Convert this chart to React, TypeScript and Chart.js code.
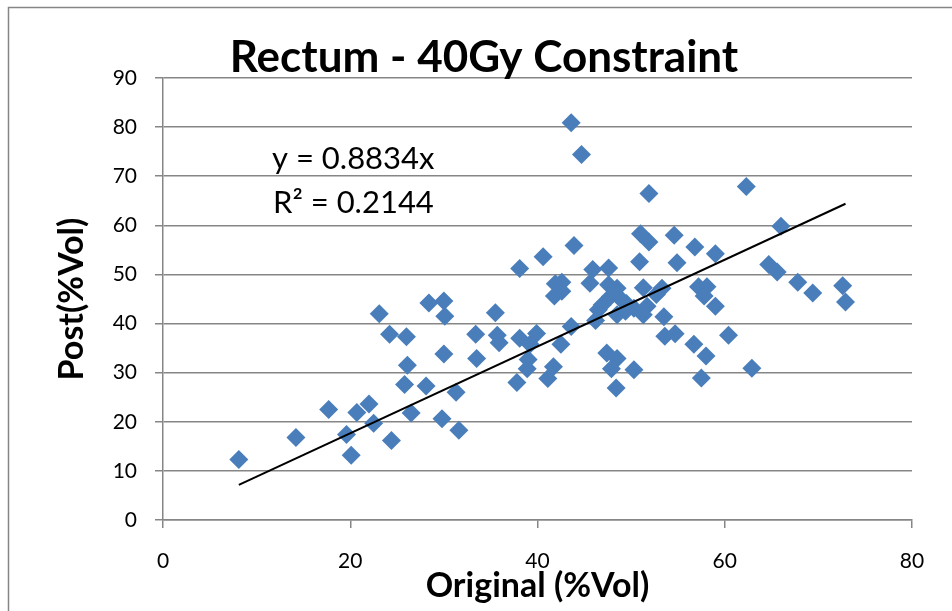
import React, { useEffect, useRef } from "react";
import { Chart, registerables } from "chart.js";

Chart.register(...registerables);

// ---- Data ----
const chartTitle = "Rectum - 40Gy Constraint";
const xAxisTitle = "Original (%Vol)";
const yAxisTitle = "Post(%Vol)";
const equationText = "y = 0.8834x";
const r2Text = "R\u00B2 = 0.2144";
const trendSlope = 0.8834;

const originalVol = [
  8.1, 14.2, 17.7, 19.6, 20.1, 20.7, 22.0, 22.5, 23.1, 24.2,
  24.4, 25.8, 26.0, 26.1, 26.5, 28.1, 28.4, 30.0, 30.1, 30.0,
  29.8, 31.3, 31.6, 33.4, 33.5, 35.5, 35.7, 35.9, 38.1, 38.1,
  37.8, 38.9, 39.0, 39.2, 39.9, 40.6, 41.1, 41.7, 41.8, 41.9,
  42.6, 42.6, 42.5, 43.6, 43.6, 44.7, 43.9, 45.6, 45.9, 46.2,
  46.5, 46.9, 47.6, 47.6, 47.8, 48.5, 48.5, 49.0, 49.5, 50.3,
  47.4, 48.5, 47.9, 48.4, 50.3, 50.9, 51.0, 51.9, 51.9, 51.3,
  51.7, 51.3, 52.7, 53.3, 53.5, 53.6, 54.6, 54.9, 54.7, 56.8,
  56.7, 57.2, 58.1, 57.8, 58.0, 57.5, 59.0, 59.0, 60.4, 62.3,
  62.9, 64.7, 65.6, 66.0, 67.8, 69.4, 72.6, 72.9, 49.4,
];

const postVol = [
  12.3, 16.8, 22.5, 17.4, 13.2, 21.9, 23.6, 19.7, 42.0, 37.8,
  16.2, 27.6, 37.3, 31.5, 21.8, 27.3, 44.2, 44.6, 41.5, 33.8,
  20.6, 26.0, 18.3, 37.8, 32.9, 42.2, 37.6, 36.1, 51.2, 37.0,
  28.0, 30.8, 32.7, 35.8, 38.0, 53.6, 28.8, 31.2, 45.6, 48.1,
  48.4, 46.6, 35.8, 39.4, 80.9, 74.4, 55.9, 48.2, 51.0, 40.6,
  42.8, 43.8, 51.3, 47.9, 45.5, 47.2, 41.8, 44.8, 44.1, 43.1,
  34.0, 32.9, 30.8, 26.9, 30.6, 52.6, 58.3, 56.6, 66.5, 47.3,
  43.5, 41.8, 45.9, 47.2, 41.4, 37.4, 58.0, 52.4, 37.9, 55.6,
  35.8, 47.5, 47.5, 45.6, 33.4, 28.9, 54.2, 43.5, 37.6, 67.9,
  30.9, 52.0, 50.5, 59.8, 48.4, 46.2, 47.7, 44.4, 42.5,
];

const xTickValues = [0, 20, 40, 60, 80];
const yTickValues = [0, 10, 20, 30, 40, 50, 60, 70, 80, 90];

const FONT = "Lato";
const GRID = "#868686";
const MARKER = "#4A7EBB";

const overlayPlugin = {
  id: "overlay",
  beforeDraw(chart: any) {
    const ctx = chart.ctx;
    ctx.save();
    ctx.fillStyle = "#ffffff";
    ctx.fillRect(0, 0, chart.width, chart.height);
    ctx.strokeStyle = GRID;
    ctx.lineWidth = 1.5;
    ctx.beginPath();
    ctx.moveTo(8.5, chart.height);
    ctx.lineTo(8.5, 7.5);
    ctx.lineTo(chart.width, 7.5);
    ctx.stroke();
    ctx.restore();
  },
  afterDraw(chart: any) {
    const ctx = chart.ctx;
    ctx.save();
    ctx.fillStyle = "#000000";
    ctx.textBaseline = "alphabetic";
    ctx.textAlign = "center";
    ctx.font = `bold 44px ${FONT}`;
    ctx.fillText(chartTitle, 484, 72);
    ctx.textAlign = "left";
    ctx.font = `31px ${FONT}`;
    ctx.fillText(equationText, 272, 169);
    ctx.fillText(r2Text, 273, 213);
    ctx.restore();
  },
};

export default function App() {
  const canvasRef = useRef<HTMLCanvasElement | null>(null);

  useEffect(() => {
    let chart: Chart | null = null;
    let cancelled = false;
    const build = () => {
      if (cancelled || !canvasRef.current) return;
      const points = originalVol.map((x, i) => ({ x, y: postVol[i] }));
      const xMin = Math.min(...originalVol);
      const xMax = Math.max(...originalVol);
      const trend = [
        { x: xMin, y: trendSlope * xMin },
        { x: xMax, y: trendSlope * xMax },
      ];
      chart = new Chart(canvasRef.current, {
        type: "scatter",
        data: {
          datasets: [
            {
              type: "line",
              label: "Linear trend",
              data: trend,
              borderColor: "#000000",
              borderWidth: 2,
              pointRadius: 0,
              fill: false,
              order: 0,
            } as any,
            {
              type: "scatter",
              label: "Post vs Original",
              data: points,
              pointStyle: "rectRot",
              pointRadius: 9.5,
              pointBackgroundColor: MARKER,
              backgroundColor: MARKER,
              borderWidth: 0,
              pointBorderWidth: 0,
              order: 1,
            } as any,
          ],
        },
        options: {
          responsive: false,
          animation: false,
          devicePixelRatio: 1,
          layout: { padding: { left: 0, right: 40, top: 78, bottom: 0 } },
          plugins: {
            legend: { display: false },
            tooltip: { enabled: false },
            title: { display: false },
          },
          scales: {
            x: {
              type: "linear",
              min: 0,
              max: 80,
              afterBuildTicks: (s: any) => {
                s.ticks = xTickValues.map((v) => ({ value: v }));
              },
              afterFit: (s: any) => {
                s.height = 91;
              },
              ticks: {
                color: "#000000",
                font: { family: FONT, size: 21 },
                padding: 21,
              },
              grid: {
                drawOnChartArea: false,
                drawTicks: true,
                tickLength: 8,
                color: GRID,
                lineWidth: 1.5,
              },
              border: { color: GRID, width: 1.5 },
              title: {
                display: true,
                text: xAxisTitle,
                color: "#000000",
                font: { family: FONT, size: 34, weight: "bold", lineHeight: 1 },
                padding: { top: 0, bottom: 8 },
              },
            },
            y: {
              type: "linear",
              min: 0,
              max: 90,
              afterBuildTicks: (s: any) => {
                s.ticks = yTickValues.map((v) => ({ value: v }));
              },
              afterFit: (s: any) => {
                s.width = 163;
              },
              ticks: {
                color: "#000000",
                font: { family: FONT, size: 21 },
                padding: 18,
              },
              grid: {
                drawOnChartArea: true,
                drawTicks: true,
                tickLength: 8,
                color: GRID,
                lineWidth: 1.5,
              },
              border: { color: GRID, width: 1.5 },
              title: {
                display: true,
                text: yAxisTitle,
                color: "#000000",
                font: { family: FONT, size: 34, weight: "bold", lineHeight: 1 },
                padding: { top: 55, bottom: 0 },
              },
            },
          },
        },
        plugins: [overlayPlugin],
      } as any);
    };
    const fontsApi = (document as any).fonts;
    if (fontsApi && fontsApi.load) {
      Promise.all([
        fontsApi.load(`bold 44px ${FONT}`),
        fontsApi.load(`21px ${FONT}`),
      ])
        .catch(() => undefined)
        .then(build);
    } else {
      build();
    }
    return () => {
      cancelled = true;
      if (chart) chart.destroy();
    };
  }, []);

  return (
    <div
      style={{
        position: "fixed",
        left: 0,
        top: 0,
        width: 952,
        height: 611,
        background: "#ffffff",
        overflow: "hidden",
      }}
    >
      <canvas ref={canvasRef} width={952} height={611} style={{ display: "block" }} />
    </div>
  );
}
